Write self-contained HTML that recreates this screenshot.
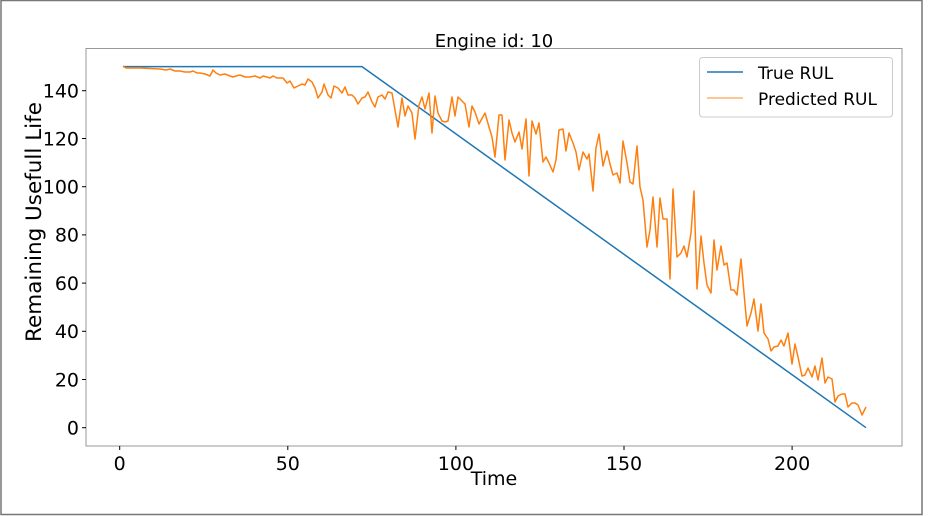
<!DOCTYPE html>
<html><head><meta charset="utf-8"><style>
html,body{margin:0;padding:0;background:#fff;}
svg{display:block;font-family:"DejaVu Sans","Liberation Sans",sans-serif;}
</style></head><body>
<svg width="929" height="516" viewBox="0 0 929 516" xmlns="http://www.w3.org/2000/svg">
<rect x="0" y="0" width="929" height="516" fill="#fff"/>
<rect x="1" y="0.5" width="921" height="514" fill="none" stroke="#777" stroke-width="1.5"/>
<rect x="86" y="48.5" width="816" height="397.5" fill="none" stroke="#999" stroke-width="1"/>
<text x="494" y="47" font-size="18" text-anchor="middle" fill="#000">Engine id: 10</text>
<g font-size="19" text-anchor="end" fill="#000">
<line x1="82" x2="86" y1="427.7" y2="427.7" stroke="#000"/><text x="79" y="434.5">0</text>
<line x1="82" x2="86" y1="379.5" y2="379.5" stroke="#000"/><text x="79" y="386.3">20</text>
<line x1="82" x2="86" y1="331.3" y2="331.3" stroke="#000"/><text x="79" y="338.1">40</text>
<line x1="82" x2="86" y1="283.1" y2="283.1" stroke="#000"/><text x="79" y="289.9">60</text>
<line x1="82" x2="86" y1="234.9" y2="234.9" stroke="#000"/><text x="79" y="241.7">80</text>
<line x1="82" x2="86" y1="186.7" y2="186.7" stroke="#000"/><text x="79" y="193.5">100</text>
<line x1="82" x2="86" y1="138.5" y2="138.5" stroke="#000"/><text x="79" y="145.3">120</text>
<line x1="82" x2="86" y1="90.7" y2="90.7" stroke="#000"/><text x="79" y="97.5">140</text>
</g>
<g font-size="19" text-anchor="middle" fill="#000">
<line x1="119.7" x2="119.7" y1="446" y2="450" stroke="#000"/><text x="119.7" y="470">0</text>
<line x1="287.8" x2="287.8" y1="446" y2="450" stroke="#000"/><text x="287.8" y="470">50</text>
<line x1="455.9" x2="455.9" y1="446" y2="450" stroke="#000"/><text x="455.9" y="470">100</text>
<line x1="624" x2="624" y1="446" y2="450" stroke="#000"/><text x="624" y="470">150</text>
<line x1="792.1" x2="792.1" y1="446" y2="450" stroke="#000"/><text x="792.1" y="470">200</text>
</g>
<text x="494" y="485" font-size="19" text-anchor="middle">Time</text>
<text transform="translate(41,222) rotate(-90)" font-size="21.5" text-anchor="middle">Remaining Usefull Life</text>
<polyline fill="none" stroke="#1f77b4" stroke-width="1.5" points="123,66.6 362,66.6 866,427.7"/>
<polyline fill="none" stroke="#ff7f0e" stroke-width="1.5" stroke-linejoin="round" points="123,66 126,68 130,68 140,68 150,68.5 160,69 166,70 170,69 175,71 180,71 185,72 190,72 193,71 197,73 200,73 205,74 210,76 213,70 216,73 220,75 225,74 230,76 233,77 236,76 240,75 245,77 250,77 255,76 260,78 263,76 267,77 270,78 273,76 277,78 280,78 283,78 287,83 290,81 294,88 298,86 302,84 305,85 308,79 312,82 315,88 318,98 322,92 324,84 328,95 331,98 334,86 338,88 342,93 345,87 348,95 352,95 355,98 358,104 362,98 365,97 368,92 372,102 375,107 378,97 382,95 385,99 388,92 392,93 398,127 402,98 405,116 408,106 412,113 415,139 419,105 422,97 425,109 429,93 432,133 435,96 438,113 442,121 445,122 448,121 452,97 455,116 458,97 465,104 469,127 472,106 475,112 479,124 485,113 489,127 492,137 495,157 499,115 502,115 505,160 509,120 512,133 515,142 519,132 522,149 526,119 529,176 532,121 536,134 539,123 543,162 546,157 549,163 553,172 556,160 559,130 563,129 566,151 569,133 573,143 576,152 579,170 583,152 587,159 589,154 593,191 596,148 599,134 603,166 607,151 610,164 613,175 617,173 620,183 623,141 627,163 630,182 633,184 637,146 640,187 643,200 647,247 650,230 653,197 657,247 660,198 663,219 667,219 670,279 673,189 677,257 681,253 684,246 687,257 691,233 694,191 697,289 701,236 704,263 707,285 711,293 714,240 717,270 721,246 724,265 727,263 731,290 734,290 737,295 741,259 744,293 747,326 751,313 754,299 758,331 761,304 764,333 768,339 771,351 774,347 778,346 781,340 784,346 788,333 792,364 795,344 798,357 802,376 805,375 808,368 812,377 815,366 818,380 822,358 825,383 828,377 832,379 835,402 838,396 842,394 845,394 848,407 852,403 855,403 858,405 862,415 866,407"/>
<rect x="699.5" y="57.5" width="193" height="59.5" rx="3" fill="#fff" fill-opacity="0.8" stroke="#ccc"/>
<line x1="707" x2="743" y1="72" y2="72" stroke="#1f77b4" stroke-width="1.5"/>
<line x1="707" x2="743" y1="98" y2="98" stroke="#ff7f0e" stroke-width="1.5" stroke-opacity="0.6"/>
<text x="758" y="79" font-size="17">True RUL</text>
<text x="758" y="105" font-size="17">Predicted RUL</text>
</svg>
</body></html>
